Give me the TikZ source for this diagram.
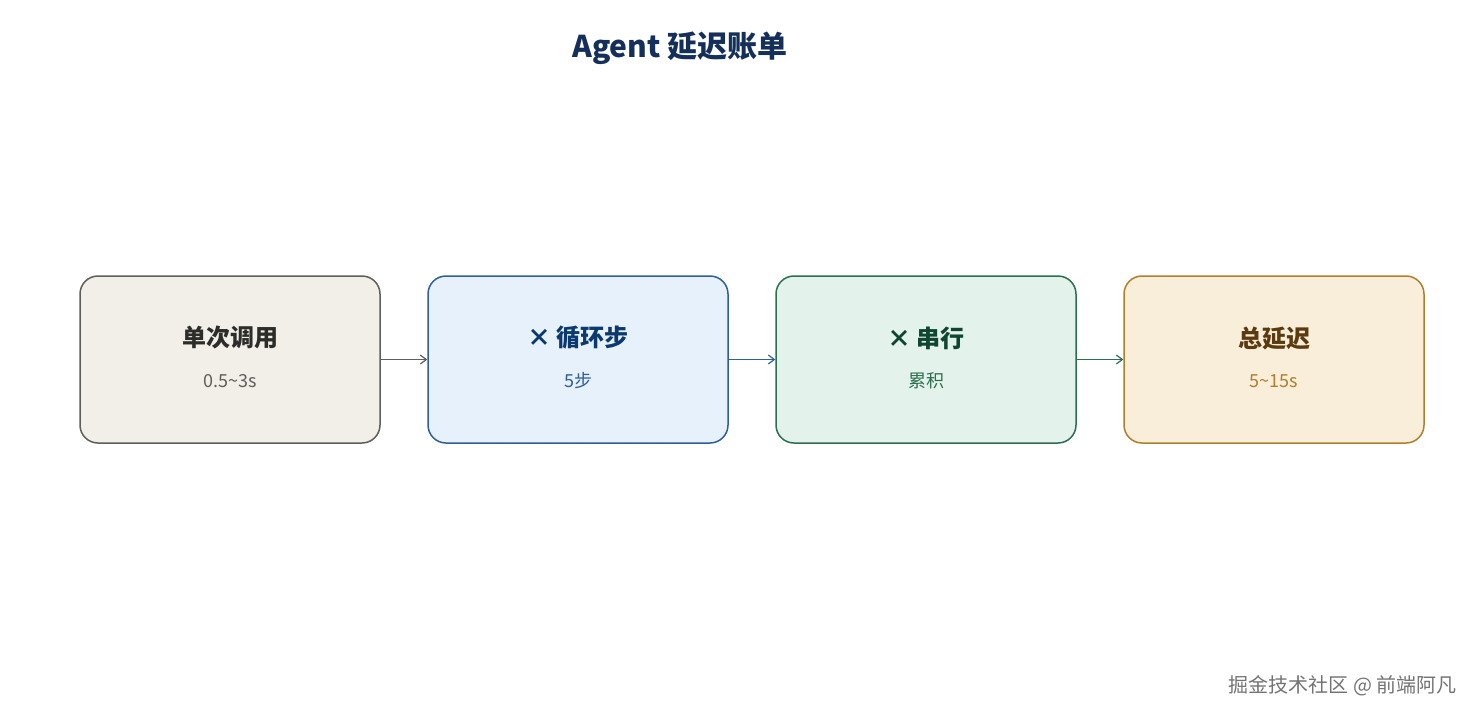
\documentclass[tikz,border=0pt]{standalone}
\usepackage{fontspec}
\setmainfont{Noto Sans CJK SC}
\usetikzlibrary{arrows.meta}
\definecolor{gS}{HTML}{5F5E5A}\definecolor{gF}{HTML}{F1EFE8}\definecolor{gT}{HTML}{2C2C2A}
\definecolor{bS}{HTML}{2E5F9A}\definecolor{bF}{HTML}{E6F1FB}\definecolor{bT}{HTML}{0C3A6E}
\definecolor{tS}{HTML}{2D6E50}\definecolor{tF}{HTML}{E3F3EC}\definecolor{tT}{HTML}{0F4630}
\definecolor{oS}{HTML}{B07E2C}\definecolor{oF}{HTML}{F8EEDA}\definecolor{oT}{HTML}{5A3A0E}
\definecolor{titleC}{HTML}{14305A}
\begin{document}
\begin{tikzpicture}[x=1pt,y=-1pt,
 box/.style={draw=#1S,fill=#1F,line width=1.5pt,rounded corners=18pt,minimum width=300pt,minimum height=167pt},
 ttl/.style={font=\bfseries\fontsize{24}{28}\selectfont,text=#1},
 sub/.style={font=\fontsize{18}{22}\selectfont,text=#1},
 arr/.style={draw=#1,line width=1.2pt,-{Straight Barb[length=6pt,width=9pt]}}]
\useasboundingbox (0,0) rectangle (1480,720);
\node[font=\bfseries\fontsize{30}{36}\selectfont,text=titleC] (title) at (680,48) {Agent 延迟账单};
\node[box=g] (b1) at (230,359.5) {};
\node[box=b] (b2) at (578,359.5) {};
\node[box=t] (b3) at (926,359.5) {};
\node[box=o] (b4) at (1274,359.5) {};
\node[ttl=gT] (t1) at (230,338) {单次调用};
\node[sub=gS] (s1) at (230,381) {0.5\textasciitilde 3s};
\node[ttl=bT] (t2) at (578,338) {× 循环步};
\node[sub=bS] (s2) at (578,381) {5步};
\node[ttl=tT] (t3) at (926,338) {× 串行};
\node[sub=tS] (s3) at (926,381) {累积};
\node[ttl=oT] (t4) at (1274,338) {总延迟};
\node[sub=oS] (s4) at (1274,381) {5\textasciitilde 15s};
\draw[arr=gS] (b1) -- (b2);
\draw[arr=bS] (b2) -- (b3);
\draw[arr=tS] (b3) -- (b4);
\node[font=\fontsize{20}{24}\selectfont,text=black!55,anchor=east] (wm) at (1460,686) {掘金技术社区 @ 前端阿凡};
\end{tikzpicture}
\end{document}
